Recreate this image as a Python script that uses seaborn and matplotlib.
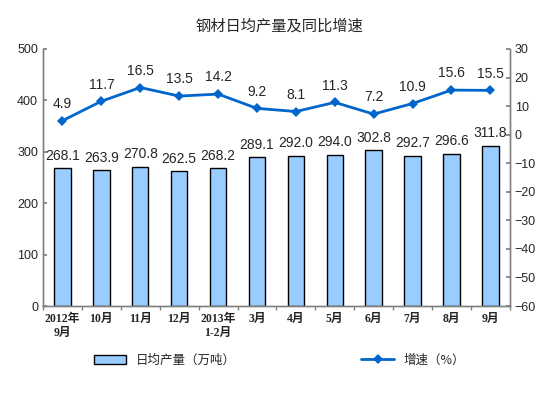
import pandas as pd
import matplotlib.pyplot as plt
import seaborn as sns

# dados
meses = ['2012年\n9月', '10月', '11月', '12月', '2013年\n1-2月', '3月', '4月',
         '5月', '6月', '7月', '8月', '9月']
producao = [268.1, 263.9, 270.8, 262.5, 268.2, 289.1, 292.0, 294.0, 302.8, 292.7, 296.6, 311.8]
crescimento = [4.9, 11.7, 16.5, 13.5, 14.2, 9.2, 8.1, 11.3, 7.2, 10.9, 15.6, 15.5]

sns.set_theme(style="white")
plt.rcParams['font.family'] = ['Liberation Sans', 'Noto Sans CJK SC']

df = pd.DataFrame({'mes': meses, 'producao': producao, 'crescimento': crescimento})

fig = plt.figure(figsize=(5.59, 3.98), dpi=100)
ax = fig.add_axes([0.077, 0.231, 0.835, 0.646])

sns.barplot(x='mes', y='producao', data=df, ax=ax, color='#99CCFF',
            edgecolor='black', linewidth=1, width=0.42, saturation=1,
            label='日均产量（万吨）')
ax.set_ylim(0, 500)
ax.set_yticks(range(0, 501, 100))
ax.set_xlim(-0.5, len(meses) - 0.5)
for i, v in enumerate(producao):
    ax.annotate(f'{v:.1f}', (i, v), xytext=(0, 4), textcoords='offset points',
                ha='center', va='bottom', fontsize=10)

ax2 = ax.twinx()
sns.lineplot(x=list(range(len(meses))), y=crescimento, ax=ax2, color='#0066CC',
             marker='D', markersize=5, linewidth=2, markeredgewidth=0,
             label='增速（%）', legend=False)
ax2.set_ylim(-60, 30)
ax2.set_yticks(range(-60, 31, 10))
for i, v in enumerate(crescimento):
    ax2.annotate(f'{v:.1f}', (i, v), xytext=(0, 7), textcoords='offset points',
                 ha='center', va='bottom', fontsize=10)

# eixos
ax.set_xlabel('')
ax.set_ylabel('')
ax.set_xticks([x + 0.5 for x in range(-1, len(meses))], minor=True)
ax.tick_params(axis='x', which='minor', length=3, color='#808080', direction='out', bottom=True)
ax.tick_params(axis='x', which='major', length=0, labelsize=8.5, pad=5)
ax.tick_params(axis='y', length=3, direction='in', left=True, labelsize=9, color='#808080')
ax2.tick_params(axis='y', length=3, direction='in', right=True, labelsize=9, color='#808080')
for a in (ax, ax2):
    a.spines['top'].set_visible(False)
    for s in ('left', 'right', 'bottom'):
        a.spines[s].set_color('#808080')
        a.spines[s].set_linewidth(1)
for lbl in ax.get_xticklabels():
    lbl.set_fontfamily(['Liberation Serif', 'Noto Sans CJK SC'])
    lbl.set_fontweight('bold')

fig.suptitle('钢材日均产量及同比增速', x=0.5, y=0.955, fontsize=11, fontweight='medium',
             family=['Noto Sans CJK SC'])

if ax.get_legend():
    ax.get_legend().remove()
h1, l1 = ax.get_legend_handles_labels()
h2, l2 = ax2.get_legend_handles_labels()
fig.legend(h1 + h2, l1 + l2, loc='center', bbox_to_anchor=(0.5, 0.095), ncol=2,
           frameon=False, columnspacing=10, handlelength=2.6,
           prop={'family': ['Noto Sans CJK SC'], 'size': 9})

plt.savefig('out.png', dpi=100)
